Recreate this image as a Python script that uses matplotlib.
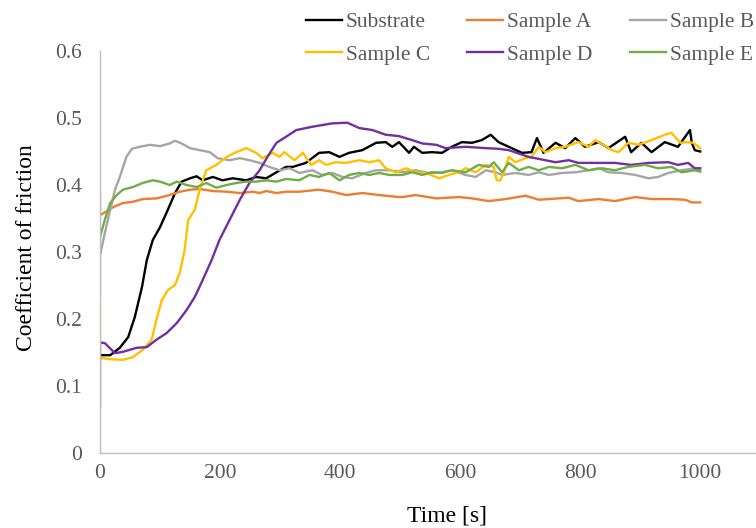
import matplotlib
matplotlib.use("Agg")
from matplotlib import pyplot as plt

plt.rcParams['font.family'] = ['Liberation Serif', 'DejaVu Serif']

# friction test traces, time [s] and coefficient of friction
t_sub = [0, 17, 33, 47, 58, 70, 78, 88, 100, 113,
         125, 136, 150, 161, 171, 188, 204, 221, 244, 260,
         277, 294, 310, 321, 343, 365, 382, 399, 415, 437,
         460, 476, 487, 498, 515, 523, 537, 553, 570, 586,
         603, 620, 636, 651, 664, 681, 703, 719, 728, 739,
         759, 775, 792, 808, 831, 847, 875, 885, 902, 919,
         941, 963, 983, 986, 991, 1000]
cof_sub = [0.146, 0.146, 0.157, 0.173, 0.203, 0.248, 0.288, 0.318, 0.337, 0.363,
           0.388, 0.405, 0.41, 0.413, 0.407, 0.412, 0.407, 0.41, 0.407, 0.412,
           0.41, 0.419, 0.427, 0.427, 0.433, 0.448, 0.449, 0.442, 0.448, 0.452,
           0.463, 0.464, 0.457, 0.464, 0.448, 0.457, 0.448, 0.449, 0.448, 0.457,
           0.464, 0.463, 0.467, 0.475, 0.464, 0.457, 0.448, 0.449, 0.47, 0.448,
           0.463, 0.455, 0.47, 0.457, 0.464, 0.455, 0.472, 0.449, 0.463, 0.449,
           0.464, 0.457, 0.482, 0.463, 0.452, 0.45]

t_a = [0, 0, 6, 22, 38, 55, 71, 94, 116, 133,
       150, 166, 188, 211, 233, 255, 266, 277, 294, 310,
       332, 365, 387, 410, 437, 465, 498, 504, 526, 560,
       598, 620, 648, 676, 709, 731, 781, 797, 831, 858,
       892, 919, 952, 975, 986, 1000]
cof_a = [0.388, 0.355, 0.358, 0.367, 0.373, 0.375, 0.379, 0.38, 0.385, 0.39,
         0.393, 0.394, 0.391, 0.39, 0.388, 0.39, 0.388, 0.391, 0.388, 0.39,
         0.39, 0.393, 0.39, 0.385, 0.388, 0.385, 0.382, 0.382, 0.385, 0.38,
         0.382, 0.38, 0.376, 0.379, 0.384, 0.378, 0.381, 0.376, 0.379, 0.376,
         0.382, 0.379, 0.379, 0.378, 0.374, 0.374]

t_b = [0, 8, 17, 25, 33, 44, 53, 66, 83, 100,
       116, 125, 136, 150, 166, 183, 196, 216, 233, 249,
       266, 282, 299, 316, 332, 354, 370, 387, 404, 420,
       443, 460, 482, 504, 526, 548, 570, 586, 609, 626,
       643, 659, 670, 692, 714, 731, 748, 770, 792, 814,
       831, 847, 869, 892, 914, 930, 947, 969, 991, 1000]
cof_b = [0.295, 0.328, 0.363, 0.393, 0.412, 0.442, 0.454, 0.457, 0.46, 0.458,
         0.462, 0.466, 0.462, 0.455, 0.452, 0.449, 0.44, 0.437, 0.44, 0.437,
         0.433, 0.427, 0.422, 0.425, 0.418, 0.422, 0.415, 0.418, 0.412, 0.41,
         0.418, 0.422, 0.422, 0.419, 0.422, 0.418, 0.419, 0.422, 0.415, 0.412,
         0.422, 0.419, 0.415, 0.418, 0.415, 0.419, 0.415, 0.418, 0.419, 0.422,
         0.425, 0.419, 0.418, 0.415, 0.41, 0.412, 0.418, 0.422, 0.425, 0.422]

t_c = [0, 0, 17, 38, 55, 71, 86, 94, 103, 113,
       125, 133, 141, 147, 158, 166, 177, 194, 211, 227,
       244, 260, 271, 288, 299, 307, 324, 338, 352, 365,
       377, 393, 410, 432, 449, 465, 476, 493, 510, 526,
       543, 565, 581, 598, 609, 626, 643, 656, 661, 667,
       673, 681, 692, 709, 719, 731, 742, 759, 775, 797,
       814, 825, 853, 864, 880, 897, 919, 941, 952, 967,
       977, 988, 1000]
cof_c = [0.221, 0.142, 0.14, 0.139, 0.143, 0.154, 0.169, 0.199, 0.228, 0.243,
         0.251, 0.269, 0.303, 0.348, 0.363, 0.393, 0.422, 0.43, 0.442, 0.449,
         0.455, 0.448, 0.44, 0.448, 0.442, 0.449, 0.437, 0.448, 0.43, 0.437,
         0.43, 0.434, 0.433, 0.437, 0.434, 0.437, 0.425, 0.419, 0.425, 0.419,
         0.418, 0.41, 0.415, 0.419, 0.425, 0.419, 0.43, 0.427, 0.407, 0.407,
         0.419, 0.442, 0.434, 0.44, 0.442, 0.457, 0.449, 0.455, 0.457, 0.464,
         0.457, 0.467, 0.452, 0.449, 0.463, 0.46, 0.467, 0.475, 0.478, 0.463,
         0.464, 0.463, 0.455]

t_d = [0, 0, 8, 25, 38, 61, 78, 94, 111, 128,
       144, 158, 171, 186, 199, 216, 233, 249, 266, 279,
       294, 310, 327, 354, 387, 412, 432, 454, 476, 498,
       520, 537, 560, 576, 609, 643, 664, 681, 714, 742,
       759, 781, 797, 831, 858, 885, 914, 947, 963, 980,
       991, 1000]
cof_d = [0.07, 0.165, 0.164, 0.149, 0.151, 0.157, 0.158, 0.169, 0.179, 0.194,
         0.213, 0.233, 0.258, 0.288, 0.318, 0.348, 0.378, 0.403, 0.422, 0.442,
         0.463, 0.472, 0.482, 0.487, 0.492, 0.493, 0.485, 0.482, 0.475, 0.473,
         0.467, 0.462, 0.46, 0.455, 0.457, 0.455, 0.454, 0.452, 0.442, 0.437,
         0.434, 0.437, 0.433, 0.433, 0.433, 0.43, 0.433, 0.434, 0.43, 0.433,
         0.425, 0.425]

t_e = [0, 0, 8, 17, 28, 38, 55, 71, 88, 100,
       116, 128, 144, 161, 177, 194, 211, 227, 244, 260,
       277, 294, 310, 332, 349, 365, 382, 399, 415, 432,
       449, 465, 482, 504, 520, 537, 553, 570, 586, 609,
       631, 648, 656, 670, 681, 698, 714, 731, 748, 770,
       792, 814, 836, 858, 880, 908, 930, 952, 969, 991,
       1000]
cof_e = [0.233, 0.322, 0.348, 0.373, 0.385, 0.393, 0.397, 0.403, 0.407, 0.405,
         0.4, 0.405, 0.4, 0.397, 0.403, 0.396, 0.4, 0.403, 0.405, 0.405,
         0.407, 0.405, 0.409, 0.407, 0.415, 0.412, 0.418, 0.407, 0.415, 0.418,
         0.415, 0.418, 0.415, 0.415, 0.419, 0.415, 0.419, 0.418, 0.422, 0.419,
         0.43, 0.427, 0.434, 0.419, 0.433, 0.422, 0.427, 0.422, 0.427, 0.425,
         0.43, 0.422, 0.425, 0.422, 0.427, 0.43, 0.425, 0.427, 0.419, 0.422,
         0.42]

names = ["Substrate", "Sample A", "Sample B", "Sample C", "Sample D", "Sample E"]
colors = ["#000000", "#ED7D31", "#A5A5A5", "#FFC000", "#7030A0", "#70AD47"]
series = [(t_sub, cof_sub), (t_a, cof_a), (t_b, cof_b),
          (t_c, cof_c), (t_d, cof_d), (t_e, cof_e)]

fig = plt.figure(figsize=(7.56, 5.28), dpi=100)
ax = fig.add_axes([100/756, 75/528, 656/756, 402/528])

lines = []
for (t, v), name, c in zip(series, names, colors):
    ln, = ax.plot(t, v, color=c, lw=1.7, label=name)
    lines.append(ln)

ax.set_xlim(0, 1093)
ax.set_ylim(0, 0.6)
ax.set_xticks([0, 200, 400, 600, 800, 1000])
ax.set_yticks([0, 0.1, 0.2, 0.3, 0.4, 0.5, 0.6])
ax.set_yticklabels(["0", "0.1", "0.2", "0.3", "0.4", "0.5", "0.6"])
ax.tick_params(length=0, labelsize=15.5, labelcolor="#595959")
ax.tick_params(axis='y', pad=13)
ax.tick_params(axis='x', pad=8)
for s in ["top", "right"]:
    ax.spines[s].set_visible(False)
for s in ["left", "bottom"]:
    ax.spines[s].set_color("#BFBFBF")
    ax.spines[s].set_linewidth(1.0)

ax.set_xlabel("Time [s]", fontsize=17)
ax.xaxis.set_label_coords(0.529, -0.13)
ax.set_ylabel("Coefficient of friction", fontsize=17)
ax.yaxis.set_label_coords(-0.096, 0.51)

# legend columns fill top-down, so interleave the two rows
order = [0, 3, 1, 4, 2, 5]
fig.legend([lines[i] for i in order], [names[i] for i in order],
           loc="upper left", bbox_to_anchor=(306/756, 1 - 12/528), ncol=3,
           frameon=False, fontsize=15.5, handlelength=1.67, handletextpad=0.19,
           columnspacing=1.72, labelspacing=0.58, borderpad=0, borderaxespad=0,
           labelcolor="#595959")

fig.savefig("out.png", dpi=100)
